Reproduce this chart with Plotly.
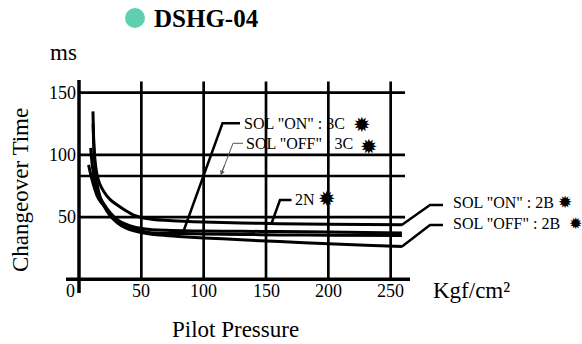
import plotly.graph_objects as go

# ---------------- data ----------------
curve_a_x = [11.2, 11.6, 12.2, 13, 14.5, 16.5, 20, 25, 30.7, 37, 44, 57, 75, 100, 130, 160, 200, 259]
curve_a_y = [135, 118, 104, 94, 84, 77, 70.4, 64, 59.7, 55.5, 51.5, 48.5, 47, 46, 45.3, 44.7, 44.3, 43.8]

curve_b_x = [9.4, 10, 11, 12.5, 14.5, 17, 20, 25, 30.7, 37, 44, 57, 84, 100, 130, 161, 200, 259]
curve_b_y = [105.6, 98, 89, 80, 72, 65.5, 60.5, 53.5, 48, 44.5, 42, 40, 39, 38.8, 38.6, 38.4, 38, 37.2]

curve_c_x = [7.7, 9, 10.5, 12.5, 15, 17.5, 20, 25, 30.7, 37, 44, 57, 84, 100, 130, 161, 200, 259]
curve_c_y = [92, 86, 80, 73, 66, 62, 59, 52, 46.3, 42.5, 40, 37.5, 36.8, 36.5, 36.1, 35.7, 35.5, 35.2]

curve_d_x = [11.3, 11.8, 12.5, 13.5, 15, 17, 20, 25, 30.7, 37, 44, 57, 80, 100, 130, 161, 200, 230, 259]
curve_d_y = [125, 108, 95, 84, 74, 66, 59, 51, 45.5, 41.5, 39, 36.5, 34.5, 33.3, 31.8, 30.3, 28.5, 27.3, 26.3]

off_3c_x = [0, 261.5]
off_3c_y = [83, 83]

x_ticks = [50, 100, 150, 200, 250]
x_tick_labels = ["50", "100", "150", "200", "250"]
y_ticks = [50, 100, 150]
y_tick_labels = ["50", "100", "150"]

title_text = "DSHG-04"
x_title = "Pilot Pressure"
x_unit = "Kgf/cm²"
y_title = "Changeover Time"
y_unit = "ms"

labels = ['SOL "ON" : 3C', 'SOL "OFF" : 3C', '2N', 'SOL "ON" : 2B', 'SOL "OFF" : 2B']
mark = "✹"

# ---------------- geometry ----------------
W, H = 582, 344
ML, MR, MT, MB = 66, 172, 80, 51
XR = [-10.43, 265.5]
YR = [-11.0, 160.2]
PW = W - ML - MR
PH = H - MT - MB


def fx(p):
    return (p - ML) / PW


def fy(p):
    return (H - MB - p) / PH


SERIF = "Liberation Serif"

fig = go.Figure()

for xs, ys in [(curve_a_x, curve_a_y), (curve_b_x, curve_b_y),
               (curve_c_x, curve_c_y), (curve_d_x, curve_d_y)]:
    fig.add_trace(go.Scatter(x=xs, y=ys, mode="lines",
                             line=dict(color="black", width=3, shape="spline", smoothing=0.6),
                             showlegend=False, hoverinfo="skip"))

fig.add_trace(go.Scatter(x=off_3c_x, y=off_3c_y, mode="lines",
                         line=dict(color="black", width=2.5),
                         showlegend=False, hoverinfo="skip"))

shapes = []
# grid lines
for v in x_ticks:
    shapes.append(dict(type="line", xref="x", yref="y", x0=v, x1=v, y0=0, y1=159,
                       line=dict(color="black", width=2.7)))
for v in y_ticks:
    shapes.append(dict(type="line", xref="x", yref="y", x0=0, x1=261.5, y0=v, y1=v,
                       line=dict(color="black", width=2.7)))
# axes
shapes.append(dict(type="line", xref="x", yref="y", x0=XR[0], x1=XR[1], y0=0, y1=0,
                   line=dict(color="black", width=3.5)))
shapes.append(dict(type="line", xref="x", yref="y", x0=0, x1=0, y0=YR[0], y1=YR[1],
                   line=dict(color="black", width=3.5)))


def leader(pts, color="black", width=2.5):
    d = "M " + " L ".join(f"{fx(a)},{fy(b)}" for a, b in pts)
    shapes.append(dict(type="path", xref="paper", yref="paper", path=d,
                       line=dict(color=color, width=width)))


leader([(240, 123.3), (222.5, 123.3), (183.3, 231.7)])
leader([(243, 143.3), (233, 143.3), (222, 172)], color="#555555", width=1)
leader([(291.5, 200), (280, 200), (271.5, 223.5)])
leader([(443, 205), (430, 205), (401.7, 225)])
leader([(443, 225), (430, 225), (401.7, 246.7)])

# title circle
shapes.append(dict(type="circle", xref="paper", yref="paper",
                   x0=fx(125), x1=fx(145), y0=fy(28), y1=fy(8),
                   fillcolor="#5fcfb0", line=dict(width=0)))

ann = []


def text(t, xp, yp, size, xanchor="left", bold=False, angle=0, font=SERIF):
    ann.append(dict(text=f"<b>{t}</b>" if bold else t, xref="paper", yref="paper",
                    x=fx(xp), y=fy(yp), xanchor=xanchor, yanchor="middle",
                    showarrow=False, textangle=angle,
                    font=dict(family=font, size=size, color="black")))


# tick labels
for v, t in zip(x_ticks, x_tick_labels):
    ann.append(dict(text=t, xref="x", yref="y", x=v, y=-9.2, xanchor="center", yanchor="middle",
                    showarrow=False, font=dict(family=SERIF, size=18, color="black")))
for v, t in zip(y_ticks, y_tick_labels):
    ann.append(dict(text=t, xref="x", yref="y", x=0, y=v, xanchor="right", yanchor="middle",
                    xshift=-1, showarrow=False, font=dict(family=SERIF, size=18, color="black")))
ann.append(dict(text="0", xref="x", yref="y", x=-7.0, y=-9.2, xanchor="center", yanchor="middle",
                showarrow=False, font=dict(family=SERIF, size=18, color="black")))

text(title_text, 152, 18, 25, bold=True)
text(y_unit, 48, 53, 23)
text(x_unit, 431, 290, 23)
text(x_title, 235, 329, 23, xanchor="center")
text(y_title, 20, 190, 23, xanchor="center", angle=-90)

text(labels[0], 242, 123, 16)
text(labels[1], 244, 143.5, 16)
text(labels[2], 293, 199, 16)
text(labels[3], 451, 202, 16)
text(labels[4], 451, 223.5, 16)

DJ = "DejaVu Sans"
text(mark, 362, 125, 21, xanchor="center", font=DJ)
text(mark, 368.5, 147, 21, xanchor="center", font=DJ)
text(mark, 327, 199, 21, xanchor="center", font=DJ)
text(mark, 565, 202, 17, xanchor="center", font=DJ)
text(mark, 575, 223.5, 16, xanchor="center", font=DJ)

# arrowhead of the gray leader
ann.append(dict(text="", xref="paper", yref="paper", x=fx(220.7), y=fy(175.5),
                ax=4, ay=-11, axref="pixel", ayref="pixel",
                showarrow=True, arrowhead=2, arrowsize=1, arrowwidth=1, arrowcolor="#555555"))

fig.update_layout(
    width=W, height=H,
    margin=dict(l=ML, r=MR, t=MT, b=MB, pad=0),
    paper_bgcolor="white", plot_bgcolor="white",
    xaxis=dict(range=XR, visible=False, fixedrange=True),
    yaxis=dict(range=YR, visible=False, fixedrange=True),
    shapes=shapes, annotations=ann, showlegend=False,
)

fig.write_html("out.html", config={"displayModeBar": False},
               post_script="document.body.style.margin='0';document.body.style.overflow='hidden';")
